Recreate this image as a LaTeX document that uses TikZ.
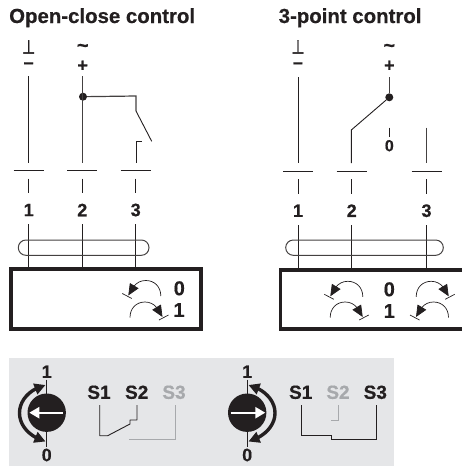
\documentclass[tikz,border=0pt]{standalone}
\usepackage{fontspec}
\setmainfont[BoldFeatures={FakeBold=0.5}]{Liberation Sans}
\newfontfamily\symfont[FakeBold=2.5]{DejaVu Sans}
\definecolor{panel}{HTML}{E5E6E8}
\definecolor{ink}{HTML}{231F20}
\definecolor{pale}{HTML}{A7A9AC}
\usetikzlibrary{arrows.meta,bending}
\tikzset{
  x=1pt,y=-1pt,
  wire/.style={draw=ink,line width=0.9pt},
  heavy wire/.style={draw=ink!85,line width=1.2pt},
  greywire/.style={draw=pale,line width=0.9pt},
  lbl/.style={font=\bfseries\fontsize{18}{18}\selectfont,text=ink,inner sep=0pt},
  lblbig/.style={font=\bfseries\fontsize{20}{20}\selectfont,text=ink,inner sep=0pt},
  gnd/.style={font=\symfont\fontsize{15}{15}\selectfont,text=ink,inner sep=0pt},
  title/.style={font=\bfseries\fontsize{20.4}{21}\selectfont,text=ink,inner sep=0pt,anchor=base west},
  sw/.style={font=\bfseries\fontsize{19}{20}\selectfont,text=ink,inner sep=0pt},
  termbox/.style={draw=ink,line width=3.7pt},
  dotn/.style={circle,fill=ink,inner sep=0pt,minimum size=8pt},
  rot/.style={draw=ink,line width=0.7pt,-{Triangle[length=11.5pt,width=10pt]}},
  stopbar/.style={draw=ink,line width=0.7pt},
  knob/.style={circle,fill=ink,inner sep=0pt,minimum size=38.4pt},
  white arrow/.style={draw=white,line width=2.4pt,-{Triangle[length=10pt,width=11pt]}},
  dialarc/.style={draw=ink,line width=3.4pt,{Triangle[length=11pt,width=11pt]}-{Triangle[length=11pt,width=11pt]}},
  capsule/.style={draw=ink!85,line width=1pt,rounded corners=7.6pt},
  turn/.pic={
    \draw[rot] (32.5,0.5) .. controls (32.5,-9) and (26,-15) .. (17.5,-15) .. controls (9,-15) and (4,-9) .. (0,0);
    \draw[stopbar] (-6,-2) -- (3.5,3);
  },
}
\begin{document}
\begin{tikzpicture}
\useasboundingbox (0,0) rectangle (461,466);
\fill[panel] (9,358) rectangle (394,466);
\node[title] (t1) at (9,23) {Open-close control};
\node[title] (t2) at (278.5,23) {3-point control};
% left circuit
\node[gnd] (g1) at (28.7,47) {\scalebox{1}[1.25]{\char"22A5}};
\node[lbl] (m1) at (28.7,65.3) {–};
\node[lblbig] (a1) at (82.7,48) {\char"7E};
\node[lbl] (p1) at (82.7,66) {+};
\coordinate (l1t) at (28.5,76.3); \coordinate (l1b) at (28.5,162.7);
\draw[wire] (l1t) -- (l1b);
\node[dotn] (d1) at (83,96.7) {};
\coordinate (l2t) at (82.8,76.3); \coordinate (l2b) at (82.8,162.7);
\draw[heavy wire] (l2t) -- (l2b);
\coordinate (c1) at (136,96); \coordinate (c2) at (136,111); \coordinate (c3) at (151.7,141.3);
\draw[heavy wire] (d1) -- (c1) -- (c2);
\draw[wire] (c2) -- (c3);
\coordinate (c4) at (136,162.7); \coordinate (c5) at (136,141.7); \coordinate (c6) at (141.7,141.7);
\draw[wire] (c4) -- (c5) -- (c6);
\foreach \x/\n in {28.7/1,82.3/2,135.7/3}{
  \draw[wire] (\x-15,170.3) -- (\x+15,170.3);
  \draw[wire] (\x,178.5) -- (\x,192.7);
  \node[lbl] at (\x,210) {\n};
  \draw[wire] (\x,224.3) -- (\x,268);
}
\draw[capsule] (18.3,240) rectangle (149,255.3);
\draw[termbox] (11,269.3) rectangle (200.7,328.7);
% right circuit
\node[gnd] (g2) at (298,47) {\scalebox{1}[1.25]{\char"22A5}};
\node[lbl] (m2) at (298,65.3) {–};
\node[lblbig] (a2) at (389.3,48) {\char"7E};
\node[lbl] (p2) at (389.3,66) {+};
\coordinate (r1t) at (298,77); \coordinate (r1b) at (298,163);
\draw[wire] (r1t) -- (r1b);
\node[dotn] (d2) at (389.3,97.3) {};
\coordinate (r2t) at (389.3,77);
\draw[heavy wire] (r2t) -- (d2);
\coordinate (s1) at (351.3,130); \coordinate (s2) at (351.3,163);
\draw[wire] (d2) -- (s1) -- (s2);
\coordinate (o1) at (389.3,127.7); \coordinate (o2) at (389.3,137);
\draw[wire] (o1) -- (o2);
\node[lbl,font=\bfseries\fontsize{16}{16}\selectfont] (zero) at (389.3,145.7) {0};
\coordinate (q1) at (426.7,127.7); \coordinate (q2) at (426.7,163);
\draw[heavy wire] (q1) -- (q2);
\foreach \x/\n in {298/1,351.7/2,426.5/3}{
  \draw[wire] (\x-15,171) -- (\x+15,171);
  \draw[wire] (\x,179) -- (\x,193.5);
  \node[lbl] at (\x,210.7) {\n};
  \draw[wire] (\x,225) -- (\x,269);
}
\draw[capsule] (285.7,240) rectangle (443.3,255.3);
\draw[termbox] (470,270.3) -- (280.5,270.3) -- (280.5,329.3) -- (470,329.3);
% box labels
\node[lblbig] at (179.3,288.3) {0};
\node[lblbig] at (179,310) {1};
\node[lblbig] at (389.3,289.3) {0};
\node[lblbig] at (389.3,311) {1};
% rotation arrows
\pic at (128.3,295.5) {turn};
\pic[xscale=-1] at (162.5,317) {turn};
\pic at (330.3,296.3) {turn};
\pic[xscale=-1] at (362.7,317) {turn};
\pic[xscale=-1] at (448.7,296.3) {turn};
\pic at (416,317) {turn};
% left dial
\draw[wire] (46.7,379.5) -- (46.7,447);
\node[knob] (k1) at (46.7,412.7) {};
\draw[white arrow] (62.7,412.7) -- (29.3,412.7);
\draw[dialarc] (45.5,385) .. controls (30,389) and (19.5,400) .. (19.5,413) .. controls (19.5,426) and (30,437) .. (45.5,441.5);
\node[lbl] at (46.7,371.7) {1};
\node[lbl] at (46.7,455) {0};
% right dial
\draw[wire] (247.2,379.5) -- (247.2,447);
\node[knob] (k2) at (247.2,412.7) {};
\draw[white arrow] (230.5,412.7) -- (265.3,412.7);
\draw[dialarc] (248.5,385) .. controls (264,389) and (275,400) .. (275,413) .. controls (275,426) and (264,437) .. (248.5,441.5);
\node[lbl] at (247.2,371.7) {1};
\node[lbl] at (247.2,455) {0};
% switch labels
\node[sw] (s1a) at (99,392.3) {S1};
\node[sw] (s2a) at (136.7,392.3) {S2};
\node[sw,text=pale] (s3a) at (174,392.3) {S3};
\node[sw] (s1b) at (300.7,392.3) {S1};
\node[sw,text=pale] (s2b) at (338,392.3) {S2};
\node[sw] (s3b) at (375.3,392.3) {S3};
% switch wiring
\draw[wire,line join=round] (99.7,405) -- (99.7,435.7) -- (107.7,435.7) -- (130,424) -- (130,420) -- (137,420) -- (137,405);
\draw[greywire] (129.3,439) -- (175.3,439) -- (175.3,405);
\draw[wire] (301,405) -- (301,435.7) -- (331.7,435.7) -- (331.7,439) -- (376.7,439) -- (376.7,405);
\draw[greywire] (338.7,405) -- (338.7,420.3) -- (331,420.3);
\end{tikzpicture}
\end{document}
